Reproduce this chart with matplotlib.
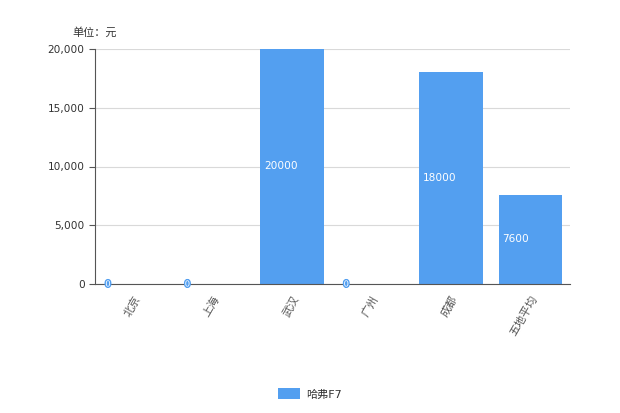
import matplotlib.pyplot as plt
import matplotlib.patheffects as pe
from matplotlib.patches import FancyBboxPatch, Rectangle
from matplotlib.legend_handler import HandlerPatch
from matplotlib.ticker import FuncFormatter

plt.rcParams['font.family'] = ['DejaVu Sans', 'Noto Sans CJK SC']

cities = ['北京', '上海', '武汉', '广州', '成都', '五地平均']
prices = [0, 0, 20000, 0, 18000, 7600]
series_name = '哈弗F7'
bar_color = '#539ff0'

fig = plt.figure(figsize=(6.2, 4.13), dpi=100)
ax = fig.add_axes([95 / 620, 1 - 284 / 413, 475 / 620, 235 / 413])

x = range(len(cities))
bars = ax.bar(x, prices, width=0.8, color=bar_color, label=series_name, zorder=2)

ax.set_xlim(-0.48, len(cities) - 0.5)
ax.set_ylim(0, 20000)
ax.set_yticks([0, 5000, 10000, 15000, 20000])
ax.yaxis.set_major_formatter(FuncFormatter(lambda v, p: f'{int(v):,}'))
ax.grid(axis='y', color='#d9d9d9', linewidth=0.8, zorder=0)

for s in ['top', 'right']:
    ax.spines[s].set_visible(False)
ax.spines['left'].set_color('#555555')
ax.spines['bottom'].set_color('#555555')
ax.tick_params(axis='y', length=4, color='#555555', labelsize=7.6, labelcolor='#333333')
ax.tick_params(axis='x', length=0, labelsize=8, labelcolor='#555555', pad=7)
ax.set_xticks(list(x))
ax.set_xticklabels(cities, rotation=60, ha='right', va='top', rotation_mode='anchor')

for b, v in zip(bars, prices):
    bx = b.get_x() + 0.05
    if v > 0:
        ax.text(bx, v / 2, str(v), color='white', fontsize=7.6, va='center', ha='left', zorder=3)
    else:
        ax.text(bx, 0, str(v), color='white', fontsize=6, va='center', ha='left', zorder=3,
                path_effects=[pe.withStroke(linewidth=2, foreground=bar_color)])

fig.text(72 / 620, 1 - 32 / 413, '单位：元', fontsize=8, color='#333333', va='center')


def rounded_patch(legend, orig, xdescent, ydescent, width, height, fontsize):
    return FancyBboxPatch((-xdescent, -ydescent), width, height,
                          boxstyle='round,pad=0,rounding_size=3')


leg = fig.legend(loc='center', bbox_to_anchor=(0.5, 1 - 394 / 413), frameon=False,
                 fontsize=8, handlelength=2.0, handleheight=1.1, handletextpad=0.5,
                 handler_map={Rectangle: HandlerPatch(patch_func=rounded_patch)})
for t in leg.get_texts():
    t.set_color('#333333')

fig.savefig('out.png', dpi=100)
